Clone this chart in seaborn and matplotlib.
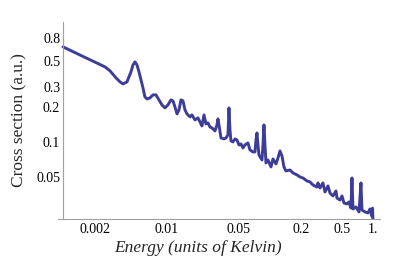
import pandas as pd
import matplotlib
matplotlib.use("Agg")
import matplotlib.pyplot as plt
from matplotlib.ticker import NullLocator
import seaborn as sns

# values (log-log)
energy = [0.000978, 0.00156, 0.00250, 0.00280, 0.00320, 0.00350, 0.00374, 0.00409,
          0.00447, 0.00468, 0.00489, 0.00511, 0.00535, 0.00585, 0.00611, 0.00639, 0.00684,
          0.00731, 0.00782, 0.00836, 0.00894, 0.00956, 0.01023, 0.01093, 0.01144,
          0.01196, 0.01251, 0.01308, 0.01367, 0.0143, 0.01496, 0.01564,
          0.01672, 0.01748, 0.0187, 0.0200, 0.02091, 0.02187, 0.02287, 0.02391,
          0.02501, 0.02615, 0.02734, 0.02924, 0.03058, 0.03127, 0.03198, 0.03344,
          0.03576, 0.03739, 0.0391, 0.03998, 0.04089, 0.0418, 0.04373, 0.04574,
          0.04782, 0.0500, 0.05228, 0.05467, 0.05716, 0.06113, 0.06394, 0.06839,
          0.07151, 0.07313, 0.07478, 0.07647, 0.0782, 0.08362, 0.08551, 0.08744,
          0.08943, 0.09145, 0.09563, 0.1023, 0.1069, 0.1144, 0.1196, 0.1251,
          0.1308, 0.1367, 0.1430, 0.1564, 0.1672, 0.1829, 0.1956, 0.2091,
          0.2287, 0.2445, 0.2615, 0.2860, 0.2924, 0.3058, 0.3270, 0.3420,
          0.3657, 0.3824, 0.4089, 0.4373, 0.4472, 0.4782, 0.5000, 0.5228,
          0.5594, 0.5848, 0.6113, 0.6252, 0.6394, 0.6839, 0.7313, 0.7647,
          0.7820, 0.8362, 0.8943, 0.9353, 0.975, 0.99, 1.0]
cross_section = [0.666, 0.546, 0.4477, 0.4135, 0.3597, 0.3322, 0.3193, 0.3322,
                 0.4054, 0.4656, 0.4943, 0.4656, 0.4054, 0.2949, 0.2467, 0.2371, 0.2419,
                 0.2568, 0.2568, 0.2325, 0.2106, 0.1983, 0.2106, 0.2325, 0.2279,
                 0.2023, 0.1761, 0.1906, 0.2325, 0.2279, 0.1906, 0.1761,
                 0.1659, 0.1726, 0.1563, 0.1626, 0.1502, 0.1388, 0.1726, 0.1444,
                 0.1473, 0.1360, 0.1334, 0.1256, 0.1416, 0.1594, 0.1416, 0.1094,
                 0.1072, 0.1094, 0.1161, 0.1983, 0.1282, 0.1030, 0.1010, 0.1072,
                 0.1051, 0.0951, 0.0971, 0.0897, 0.0951, 0.0990, 0.0862, 0.0828,
                 0.0828, 0.1051, 0.1207, 0.0951, 0.0780, 0.0706, 0.0951, 0.1416,
                 0.0951, 0.0666, 0.0706, 0.0615, 0.0721, 0.0653, 0.0735, 0.0845,
                 0.0765, 0.0615, 0.0568, 0.0579, 0.0546, 0.0525, 0.0504, 0.0494,
                 0.0466, 0.0457, 0.0430, 0.0413, 0.0448, 0.0405, 0.0448, 0.0374,
                 0.0422, 0.0367, 0.0346, 0.0382, 0.0332, 0.0319, 0.0346, 0.0301,
                 0.0295, 0.0307, 0.0272, 0.0494, 0.0267, 0.0278, 0.0252, 0.0448,
                 0.0262, 0.0252, 0.0247, 0.0267, 0.0232, 0.0272, 0.0219]

x_ticks = [0.002, 0.01, 0.05, 0.2, 0.5, 1.0]
x_tick_labels = ["0.002", "0.01", "0.05", "0.2", "0.5", "1."]
y_ticks = [0.05, 0.1, 0.2, 0.3, 0.5, 0.8]
y_tick_labels = ["0.05", "0.1", "0.2", "0.3", "0.5", "0.8"]

axis_grey = "#a0a0a0"
line_blue = "#3d3d99"

sns.set_style("white")
plt.rcParams['font.family'] = ['Liberation Serif', 'DejaVu Serif']

df = pd.DataFrame({"energy": energy, "sigma": cross_section})

fig = plt.figure(figsize=(4.15, 2.69), dpi=100)
ax = fig.add_axes([58 / 415, 50 / 269, 322 / 415, 197 / 269])
sns.lineplot(data=df, x="energy", y="sigma", ax=ax, color=line_blue,
             linewidth=2.1, sort=False, estimator=None)

ax.set_xscale("log")
ax.set_yscale("log")
ax.set_xlim(0.000875, 1.17)
ax.set_ylim(0.0219, 1.09)

ax.set_xticks(x_ticks)
ax.set_xticklabels(x_tick_labels)
ax.set_yticks(y_ticks)
ax.set_yticklabels(y_tick_labels)
ax.xaxis.set_minor_locator(NullLocator())
ax.yaxis.set_minor_locator(NullLocator())

for side in ["top", "right"]:
    ax.spines[side].set_visible(False)
ax.spines["left"].set_position(("data", energy[0]))
for side in ["left", "bottom"]:
    ax.spines[side].set_color(axis_grey)
    ax.spines[side].set_linewidth(0.8)

ax.tick_params(axis="both", direction="in", length=3.5, width=0.7,
               color=axis_grey, labelsize=10, labelcolor="black")
ax.tick_params(axis="y", pad=2)
ax.tick_params(axis="x", pad=3)

ax.set_xlabel("Energy (units of Kelvin)", fontsize=12.5, fontstyle="italic")
ax.set_ylabel("Cross section (a.u.)", fontsize=12.5)
ax.xaxis.set_label_coords(0.435, -0.105)
ax.yaxis.set_label_coords(-0.096, 0.5)

fig.savefig("out.png", dpi=100)
